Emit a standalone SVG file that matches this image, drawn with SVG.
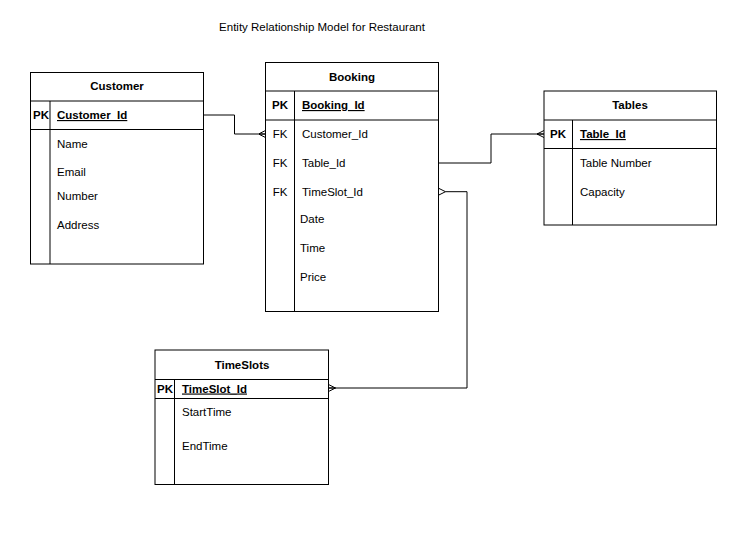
<svg xmlns="http://www.w3.org/2000/svg" width="748" height="543" viewBox="0 0 748 543">
<style>
text{font-family:"Liberation Sans",Arial,sans-serif;font-size:11.5px;fill:#000}
.b{font-weight:bold}
.c{text-anchor:middle}
.u{text-decoration:underline}
.box{fill:#fff;stroke:#000;stroke-width:1}
.ln{fill:none;stroke:#000;stroke-width:1}
</style>
<defs>
<marker id="many" viewBox="0 0 7 8" refX="7" refY="4" markerWidth="7" markerHeight="8" markerUnits="userSpaceOnUse" orient="auto">
<path d="M7,0.5 L0,4 L7,7.5 M0,4 L7,4" fill="none" stroke="#000" stroke-width="1"/>
</marker>
</defs>
<rect width="748" height="543" fill="#fff"/>
<text x="322" y="31" class="c">Entity Relationship Model for Restaurant</text>

<g id="connectors">
<path class="ln" d="M203.5,115 H234.5 V134 H265.5" marker-end="url(#many)"/>
<path class="ln" d="M438.5,163 H491 V134 H544" marker-end="url(#many)"/>
<path class="ln" d="M445.5,191.7 H467 V388 H328.5" marker-end="url(#many)"/>
<path class="ln" d="M445.5,191.7 L438.5,188.2 M445.5,191.7 L438.5,195.2"/>
</g>

<g id="customer">
<rect class="box" x="30.5" y="72.5" width="173" height="191.5"/>
<path class="ln" d="M30.5,101 H203.5 M30.5,129.5 H203.5 M50,101 V264"/>
<text x="117" y="90" class="c b">Customer</text>
<text x="33" y="119" class="b">PK</text>
<text x="57" y="119" class="b u">Customer_Id</text>
<text x="57" y="148">Name</text>
<text x="57" y="176">Email</text>
<text x="57" y="200">Number</text>
<text x="57" y="229">Address</text>
</g>

<g id="booking">
<rect class="box" x="265.5" y="62.5" width="173" height="249"/>
<path class="ln" d="M265.5,91 H438.5 M265.5,120 H438.5 M294.5,91 V311.5"/>
<text x="352" y="80.5" class="c b">Booking</text>
<text x="280" y="109" class="c b">PK</text>
<text x="302" y="109" class="b u">Booking_Id</text>
<text x="280" y="138" class="c">FK</text>
<text x="302" y="138">Customer_Id</text>
<text x="280" y="167" class="c">FK</text>
<text x="302" y="167">Table_Id</text>
<text x="280" y="196" class="c">FK</text>
<text x="302" y="196">TimeSlot_Id</text>
<text x="300" y="223">Date</text>
<text x="300" y="252">Time</text>
<text x="300" y="281">Price</text>
</g>

<g id="tables">
<rect class="box" x="544" y="91" width="172.5" height="134"/>
<path class="ln" d="M544,120 H716.5 M544,148.5 H716.5 M572.5,120 V225"/>
<text x="630" y="109" class="c b">Tables</text>
<text x="558" y="138" class="c b">PK</text>
<text x="580" y="138" class="b u">Table_Id</text>
<text x="580" y="167">Table Number</text>
<text x="580" y="196">Capacity</text>
</g>

<g id="timeslots">
<rect class="box" x="155" y="350" width="173.5" height="134.5"/>
<path class="ln" d="M155,379.5 H328.5 M155,398.5 H328.5 M174.5,379.5 V484.5"/>
<text x="242" y="368.5" class="c b">TimeSlots</text>
<text x="157" y="392.5" class="b">PK</text>
<text x="182" y="392.5" class="b u">TimeSlot_Id</text>
<text x="182" y="415.5">StartTime</text>
<text x="182" y="450">EndTime</text>
</g>
</svg>
